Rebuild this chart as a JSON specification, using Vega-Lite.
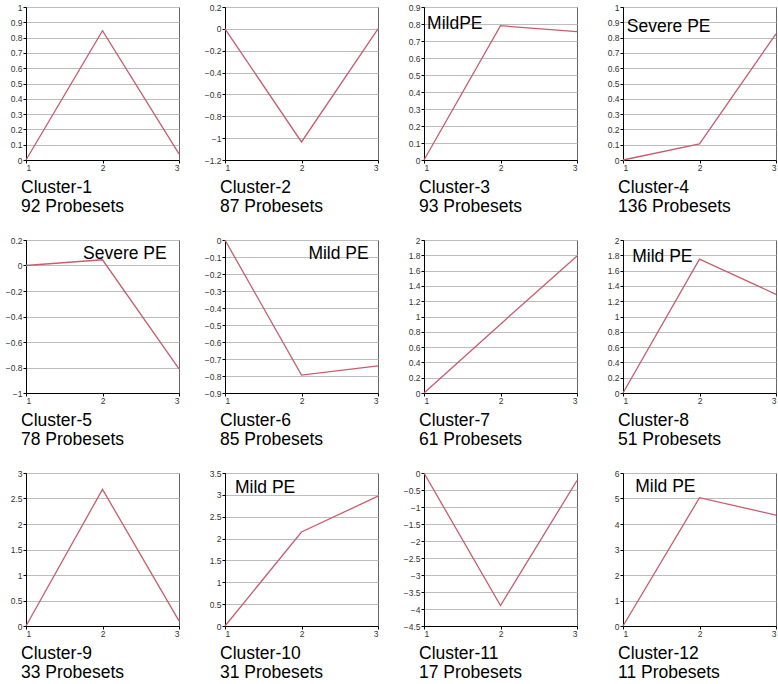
{
  "$schema": "https://vega.github.io/schema/vega-lite/v6.json",
  "background": "white",
  "padding": {"left": 4, "top": 2, "right": 2, "bottom": 2},
  "config": {
    "font": "Liberation Sans",
    "view": {"stroke": "#666", "strokeWidth": 1},
    "axis": {"labelFont": "Liberation Sans", "labelFontSize": 8.5, "labelColor": "#333", "labelOverlap": false, "tickColor": "#000", "tickSize": 3, "domainColor": "#000", "gridColor": "#bdbdbd", "gridWidth": 1, "labelPadding": 1, "title": null, "format": "~g"},
    "axisX": {"grid": false, "labelPadding": 0},
    "axisY": {"grid": true},
    "title": {"font": "Liberation Sans", "fontSize": 17.5, "fontWeight": "normal", "color": "#000", "orient": "bottom", "anchor": "start", "frame": "group", "offset": 7, "lineHeight": 19, "dx": -5},
    "line": {"color": "#c85d6d", "strokeWidth": 1.3},
    "text": {"font": "Liberation Sans", "fontSize": 17.5, "align": "left", "baseline": "middle", "color": "#000"}
  },
  "datasets": {
    "d": [
      {"c": 1, "x": 1, "y": 0}, {"c": 1, "x": 2, "y": 0.845}, {"c": 1, "x": 3, "y": 0.04},
      {"c": 2, "x": 1, "y": 0}, {"c": 2, "x": 2, "y": -1.035}, {"c": 2, "x": 3, "y": 0},
      {"c": 3, "x": 1, "y": 0}, {"c": 3, "x": 2, "y": 0.79}, {"c": 3, "x": 3, "y": 0.755},
      {"c": 4, "x": 1, "y": 0}, {"c": 4, "x": 2, "y": 0.105}, {"c": 4, "x": 3, "y": 0.825},
      {"c": 5, "x": 1, "y": 0}, {"c": 5, "x": 2, "y": 0.045}, {"c": 5, "x": 3, "y": -0.81},
      {"c": 6, "x": 1, "y": 0}, {"c": 6, "x": 2, "y": -0.795}, {"c": 6, "x": 3, "y": -0.74},
      {"c": 7, "x": 1, "y": 0}, {"c": 7, "x": 2, "y": 0.9}, {"c": 7, "x": 3, "y": 1.79},
      {"c": 8, "x": 1, "y": 0}, {"c": 8, "x": 2, "y": 1.75}, {"c": 8, "x": 3, "y": 1.29},
      {"c": 9, "x": 1, "y": 0}, {"c": 9, "x": 2, "y": 2.68}, {"c": 9, "x": 3, "y": 0.1},
      {"c": 10, "x": 1, "y": 0}, {"c": 10, "x": 2, "y": 2.15}, {"c": 10, "x": 3, "y": 2.97},
      {"c": 11, "x": 1, "y": 0}, {"c": 11, "x": 2, "y": -3.9}, {"c": 11, "x": 3, "y": -0.22},
      {"c": 12, "x": 1, "y": 0}, {"c": 12, "x": 2, "y": 5.03}, {"c": 12, "x": 3, "y": 4.35}
    ],
    "notes": [
      {"c": 3, "note": "MildPE"},
      {"c": 4, "note": "Severe PE"},
      {"c": 5, "note": "Severe PE"},
      {"c": 6, "note": "Mild PE"},
      {"c": 8, "note": "Mild PE"},
      {"c": 10, "note": "Mild PE"},
      {"c": 12, "note": "Mild PE"}
    ]
  },
  "columns": 4,
  "bounds": "flush",
  "spacing": {"row": 80, "column": 46},
  "concat": [
    {
      "width": 153, "height": 153,
      "title": {"text": ["Cluster-1", "92 Probesets"]},
      "layer": [
        {"data": {"name": "d"}, "transform": [{"filter": "datum.c == 1"}], "mark": "line",
         "encoding": {"x": {"field": "x", "type": "quantitative", "scale": {"domain": [1, 3], "nice": false}, "axis": {"values": [1, 2, 3]}},
                      "y": {"field": "y", "type": "quantitative", "scale": {"domain": [0, 1], "nice": false, "zero": false}, "axis": {"values": [0, 0.1, 0.2, 0.3, 0.4, 0.5, 0.6, 0.7, 0.8, 0.9, 1]}}}}
      ]
    },
    {
      "width": 153, "height": 153,
      "title": {"text": ["Cluster-2", "87 Probesets"]},
      "layer": [
        {"data": {"name": "d"}, "transform": [{"filter": "datum.c == 2"}], "mark": "line",
         "encoding": {"x": {"field": "x", "type": "quantitative", "scale": {"domain": [1, 3], "nice": false}, "axis": {"values": [1, 2, 3]}},
                      "y": {"field": "y", "type": "quantitative", "scale": {"domain": [-1.2, 0.2], "nice": false, "zero": false}, "axis": {"values": [-1.2, -1, -0.8, -0.6, -0.4, -0.2, 0, 0.2]}}}}
      ]
    },
    {
      "width": 153, "height": 153,
      "title": {"text": ["Cluster-3", "93 Probesets"]},
      "layer": [
        {"data": {"name": "d"}, "transform": [{"filter": "datum.c == 3"}], "mark": "line",
         "encoding": {"x": {"field": "x", "type": "quantitative", "scale": {"domain": [1, 3], "nice": false}, "axis": {"values": [1, 2, 3]}},
                      "y": {"field": "y", "type": "quantitative", "scale": {"domain": [0, 0.9], "nice": false, "zero": false}, "axis": {"values": [0, 0.1, 0.2, 0.3, 0.4, 0.5, 0.6, 0.7, 0.8, 0.9]}}}},
        {"data": {"name": "notes"}, "transform": [{"filter": "datum.c == 3"}], "mark": "text",
         "encoding": {"x": {"datum": 1.04, "type": "quantitative", "axis": {"values": [1, 2, 3]}}, "y": {"datum": 0.8, "type": "quantitative", "axis": {"values": [0, 0.1, 0.2, 0.3, 0.4, 0.5, 0.6, 0.7, 0.8, 0.9]}}, "text": {"field": "note"}}}
      ]
    },
    {
      "width": 153, "height": 153,
      "title": {"text": ["Cluster-4", "136 Probesets"]},
      "layer": [
        {"data": {"name": "d"}, "transform": [{"filter": "datum.c == 4"}], "mark": "line",
         "encoding": {"x": {"field": "x", "type": "quantitative", "scale": {"domain": [1, 3], "nice": false}, "axis": {"values": [1, 2, 3]}},
                      "y": {"field": "y", "type": "quantitative", "scale": {"domain": [0, 1], "nice": false, "zero": false}, "axis": {"values": [0, 0.1, 0.2, 0.3, 0.4, 0.5, 0.6, 0.7, 0.8, 0.9, 1]}}}},
        {"data": {"name": "notes"}, "transform": [{"filter": "datum.c == 4"}], "mark": "text",
         "encoding": {"x": {"datum": 1.05, "type": "quantitative", "axis": {"values": [1, 2, 3]}}, "y": {"datum": 0.87, "type": "quantitative", "axis": {"values": [0, 0.1, 0.2, 0.3, 0.4, 0.5, 0.6, 0.7, 0.8, 0.9, 1]}}, "text": {"field": "note"}}}
      ]
    },
    {
      "width": 153, "height": 153,
      "title": {"text": ["Cluster-5", "78 Probesets"]},
      "layer": [
        {"data": {"name": "d"}, "transform": [{"filter": "datum.c == 5"}], "mark": "line",
         "encoding": {"x": {"field": "x", "type": "quantitative", "scale": {"domain": [1, 3], "nice": false}, "axis": {"values": [1, 2, 3]}},
                      "y": {"field": "y", "type": "quantitative", "scale": {"domain": [-1, 0.2], "nice": false, "zero": false}, "axis": {"values": [-1, -0.8, -0.6, -0.4, -0.2, 0, 0.2]}}}},
        {"data": {"name": "notes"}, "transform": [{"filter": "datum.c == 5"}], "mark": "text",
         "encoding": {"x": {"datum": 1.745, "type": "quantitative", "axis": {"values": [1, 2, 3]}}, "y": {"datum": 0.09, "type": "quantitative", "axis": {"values": [-1, -0.8, -0.6, -0.4, -0.2, 0, 0.2]}}, "text": {"field": "note"}}}
      ]
    },
    {
      "width": 153, "height": 153,
      "title": {"text": ["Cluster-6", "85 Probesets"]},
      "layer": [
        {"data": {"name": "d"}, "transform": [{"filter": "datum.c == 6"}], "mark": "line",
         "encoding": {"x": {"field": "x", "type": "quantitative", "scale": {"domain": [1, 3], "nice": false}, "axis": {"values": [1, 2, 3]}},
                      "y": {"field": "y", "type": "quantitative", "scale": {"domain": [-0.9, 0], "nice": false, "zero": false}, "axis": {"values": [-0.9, -0.8, -0.7, -0.6, -0.5, -0.4, -0.3, -0.2, -0.1, 0]}}}},
        {"data": {"name": "notes"}, "transform": [{"filter": "datum.c == 6"}], "mark": "text",
         "encoding": {"x": {"datum": 2.09, "type": "quantitative", "axis": {"values": [1, 2, 3]}}, "y": {"datum": -0.08, "type": "quantitative", "axis": {"values": [-0.9, -0.8, -0.7, -0.6, -0.5, -0.4, -0.3, -0.2, -0.1, 0]}}, "text": {"field": "note"}}}
      ]
    },
    {
      "width": 153, "height": 153,
      "title": {"text": ["Cluster-7", "61 Probesets"]},
      "layer": [
        {"data": {"name": "d"}, "transform": [{"filter": "datum.c == 7"}], "mark": "line",
         "encoding": {"x": {"field": "x", "type": "quantitative", "scale": {"domain": [1, 3], "nice": false}, "axis": {"values": [1, 2, 3]}},
                      "y": {"field": "y", "type": "quantitative", "scale": {"domain": [0, 2], "nice": false, "zero": false}, "axis": {"values": [0, 0.2, 0.4, 0.6, 0.8, 1, 1.2, 1.4, 1.6, 1.8, 2]}}}}
      ]
    },
    {
      "width": 153, "height": 153,
      "title": {"text": ["Cluster-8", "51 Probesets"]},
      "layer": [
        {"data": {"name": "d"}, "transform": [{"filter": "datum.c == 8"}], "mark": "line",
         "encoding": {"x": {"field": "x", "type": "quantitative", "scale": {"domain": [1, 3], "nice": false}, "axis": {"values": [1, 2, 3]}},
                      "y": {"field": "y", "type": "quantitative", "scale": {"domain": [0, 2], "nice": false, "zero": false}, "axis": {"values": [0, 0.2, 0.4, 0.6, 0.8, 1, 1.2, 1.4, 1.6, 1.8, 2]}}}},
        {"data": {"name": "notes"}, "transform": [{"filter": "datum.c == 8"}], "mark": "text",
         "encoding": {"x": {"datum": 1.12, "type": "quantitative", "axis": {"values": [1, 2, 3]}}, "y": {"datum": 1.78, "type": "quantitative", "axis": {"values": [0, 0.2, 0.4, 0.6, 0.8, 1, 1.2, 1.4, 1.6, 1.8, 2]}}, "text": {"field": "note"}}}
      ]
    },
    {
      "width": 153, "height": 153,
      "title": {"text": ["Cluster-9", "33 Probesets"]},
      "layer": [
        {"data": {"name": "d"}, "transform": [{"filter": "datum.c == 9"}], "mark": "line",
         "encoding": {"x": {"field": "x", "type": "quantitative", "scale": {"domain": [1, 3], "nice": false}, "axis": {"values": [1, 2, 3]}},
                      "y": {"field": "y", "type": "quantitative", "scale": {"domain": [0, 3], "nice": false, "zero": false}, "axis": {"values": [0, 0.5, 1, 1.5, 2, 2.5, 3]}}}}
      ]
    },
    {
      "width": 153, "height": 153,
      "title": {"text": ["Cluster-10", "31 Probesets"]},
      "layer": [
        {"data": {"name": "d"}, "transform": [{"filter": "datum.c == 10"}], "mark": "line",
         "encoding": {"x": {"field": "x", "type": "quantitative", "scale": {"domain": [1, 3], "nice": false}, "axis": {"values": [1, 2, 3]}},
                      "y": {"field": "y", "type": "quantitative", "scale": {"domain": [0, 3.5], "nice": false, "zero": false}, "axis": {"values": [0, 0.5, 1, 1.5, 2, 2.5, 3, 3.5]}}}},
        {"data": {"name": "notes"}, "transform": [{"filter": "datum.c == 10"}], "mark": "text",
         "encoding": {"x": {"datum": 1.13, "type": "quantitative", "axis": {"values": [1, 2, 3]}}, "y": {"datum": 3.16, "type": "quantitative", "axis": {"values": [0, 0.5, 1, 1.5, 2, 2.5, 3, 3.5]}}, "text": {"field": "note"}}}
      ]
    },
    {
      "width": 153, "height": 153,
      "title": {"text": ["Cluster-11", "17 Probesets"]},
      "layer": [
        {"data": {"name": "d"}, "transform": [{"filter": "datum.c == 11"}], "mark": "line",
         "encoding": {"x": {"field": "x", "type": "quantitative", "scale": {"domain": [1, 3], "nice": false}, "axis": {"values": [1, 2, 3]}},
                      "y": {"field": "y", "type": "quantitative", "scale": {"domain": [-4.5, 0], "nice": false, "zero": false}, "axis": {"values": [-4.5, -4, -3.5, -3, -2.5, -2, -1.5, -1, -0.5, 0]}}}}
      ]
    },
    {
      "width": 153, "height": 153,
      "title": {"text": ["Cluster-12", "11 Probesets"]},
      "layer": [
        {"data": {"name": "d"}, "transform": [{"filter": "datum.c == 12"}], "mark": "line",
         "encoding": {"x": {"field": "x", "type": "quantitative", "scale": {"domain": [1, 3], "nice": false}, "axis": {"values": [1, 2, 3]}},
                      "y": {"field": "y", "type": "quantitative", "scale": {"domain": [0, 6], "nice": false, "zero": false}, "axis": {"values": [0, 1, 2, 3, 4, 5, 6]}}}},
        {"data": {"name": "notes"}, "transform": [{"filter": "datum.c == 12"}], "mark": "text",
         "encoding": {"x": {"datum": 1.16, "type": "quantitative", "axis": {"values": [1, 2, 3]}}, "y": {"datum": 5.44, "type": "quantitative", "axis": {"values": [0, 1, 2, 3, 4, 5, 6]}}, "text": {"field": "note"}}}
      ]
    }
  ]
}
